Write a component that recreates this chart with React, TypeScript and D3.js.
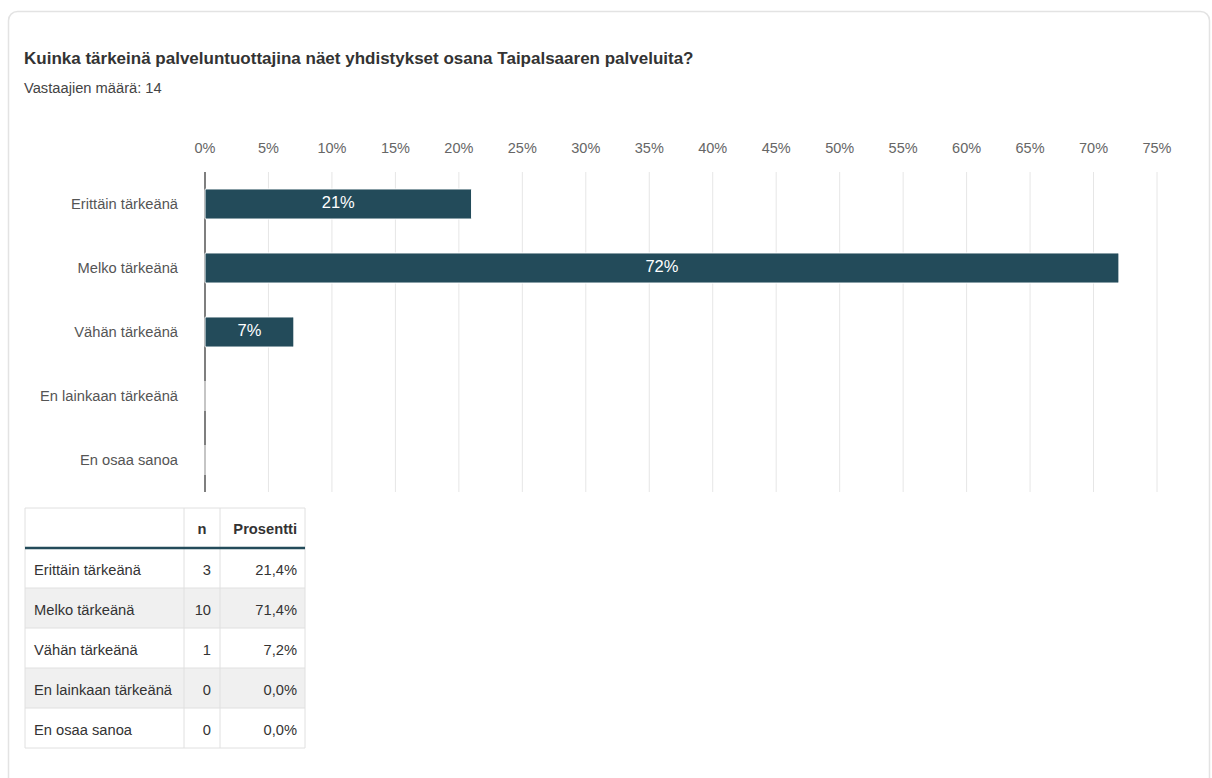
import React from "react";
import * as d3 from "d3";

const categories = ["Erittäin tärkeänä", "Melko tärkeänä", "Vähän tärkeänä", "En lainkaan tärkeänä", "En osaa sanoa"];
const chartValues = [21, 72, 7, 0, 0];
const counts = [3, 10, 1, 0, 0];
const percents = [21.4, 71.4, 7.2, 0.0, 0.0];
const ticks = [0, 5, 10, 15, 20, 25, 30, 35, 40, 45, 50, 55, 60, 65, 70, 75];

const title = "Kuinka tärkeinä palveluntuottajina näet yhdistykset osana Taipalsaaren palveluita?";
const subtitle = "Vastaajien määrä: 14";

const FONT = "'Liberation Sans', Arial, Helvetica, sans-serif";
const BAR = "#234b5a";

export default function App() {
  const x = d3.scaleLinear().domain([0, 75]).range([205, 1157]);
  const y = d3.scaleBand().domain(categories).range([172, 492]).paddingInner(0.53).paddingOuter(0.265);

  const tableX = [25, 184, 220, 305];
  const headerTop = 508;
  const headerBottom = 548;
  const rowH = 40;
  const fmt = (v: number) => v.toFixed(1).replace(".", ",") + "%";

  return (
    <svg width={1212} height={778} style={{ position: "absolute", left: 0, top: 0 }} fontFamily={FONT}>
      <rect x={0} y={0} width={1212} height={778} fill="#fff" />
      <rect x={8.5} y={11.5} width={1201} height={800} rx={9} fill="#fff" stroke="#e3e3e3" strokeWidth={1.5} />
      <text x={24} y={64} fontSize={17} fontWeight="bold" fill="#333">{title}</text>
      <text x={24} y={93} fontSize={14.7} fill="#444">{subtitle}</text>

      {/* grid */}
      {ticks.map((t) => (
        <g key={t}>
          {t > 0 && <line x1={x(t)} x2={x(t)} y1={172} y2={492} stroke="#e6e6e6" strokeWidth={1} />}
          <text x={x(t)} y={153} fontSize={14.5} fill="#666" textAnchor="middle">{t}%</text>
        </g>
      ))}
      <line x1={205} x2={205} y1={172} y2={492} stroke="#555" strokeWidth={1.5} />

      {categories.map((c, i) => {
        const v = chartValues[i];
        const by = y(c)!;
        const bh = y.bandwidth();
        return (
          <g key={c}>
            <text x={178} y={by + bh / 2 + 5} fontSize={14.7} fill="#555" textAnchor="end">{c}</text>
            {v > 0 ? (
              <>
                <rect x={x(0)} y={by} width={x(v) - x(0)} height={bh} fill={BAR} stroke="#fff" strokeWidth={1} rx={1} />
                <text x={(x(0) + x(v)) / 2} y={by + bh / 2 + 4} fontSize={16.5} fill="#fff" textAnchor="middle">{v}%</text>
              </>
            ) : (
              <line x1={205} x2={205} y1={by} y2={by + bh} stroke="#dcdcdc" strokeWidth={1.5} />
            )}
          </g>
        );
      })}

      {/* table */}
      <g fontSize={14.7} fill="#333">
        {categories.map((c, i) => {
          const top = headerBottom + i * rowH;
          return (
            <g key={c}>
              <rect x={tableX[0]} y={top} width={tableX[3] - tableX[0]} height={rowH} fill={i % 2 === 1 ? "#f0f0f0" : "#fff"} />
              <text x={34} y={top + 27} fill="#333">{c}</text>
              <text x={211} y={top + 27} textAnchor="end" fill="#333">{counts[i]}</text>
              <text x={297} y={top + 27} textAnchor="end" fill="#333">{fmt(percents[i])}</text>
            </g>
          );
        })}
        {/* borders */}
        {tableX.map((tx, i) => (
          <line key={"v" + i} x1={tx} x2={tx} y1={headerTop} y2={headerBottom + 5 * rowH} stroke="#e0e0e0" strokeWidth={1} />
        ))}
        <line x1={tableX[0]} x2={tableX[3]} y1={headerTop} y2={headerTop} stroke="#e0e0e0" />
        {categories.map((c, i) => (
          <line key={"h" + i} x1={tableX[0]} x2={tableX[3]} y1={headerBottom + (i + 1) * rowH} y2={headerBottom + (i + 1) * rowH} stroke="#e0e0e0" />
        ))}
        <line x1={tableX[0]} x2={tableX[3]} y1={headerBottom} y2={headerBottom} stroke={BAR} strokeWidth={2.5} />
        <text x={202} y={534} fontWeight="bold" textAnchor="middle" fill="#333">n</text>
        <text x={297} y={534} fontWeight="bold" textAnchor="end" fill="#333">Prosentti</text>
      </g>
    </svg>
  );
}
